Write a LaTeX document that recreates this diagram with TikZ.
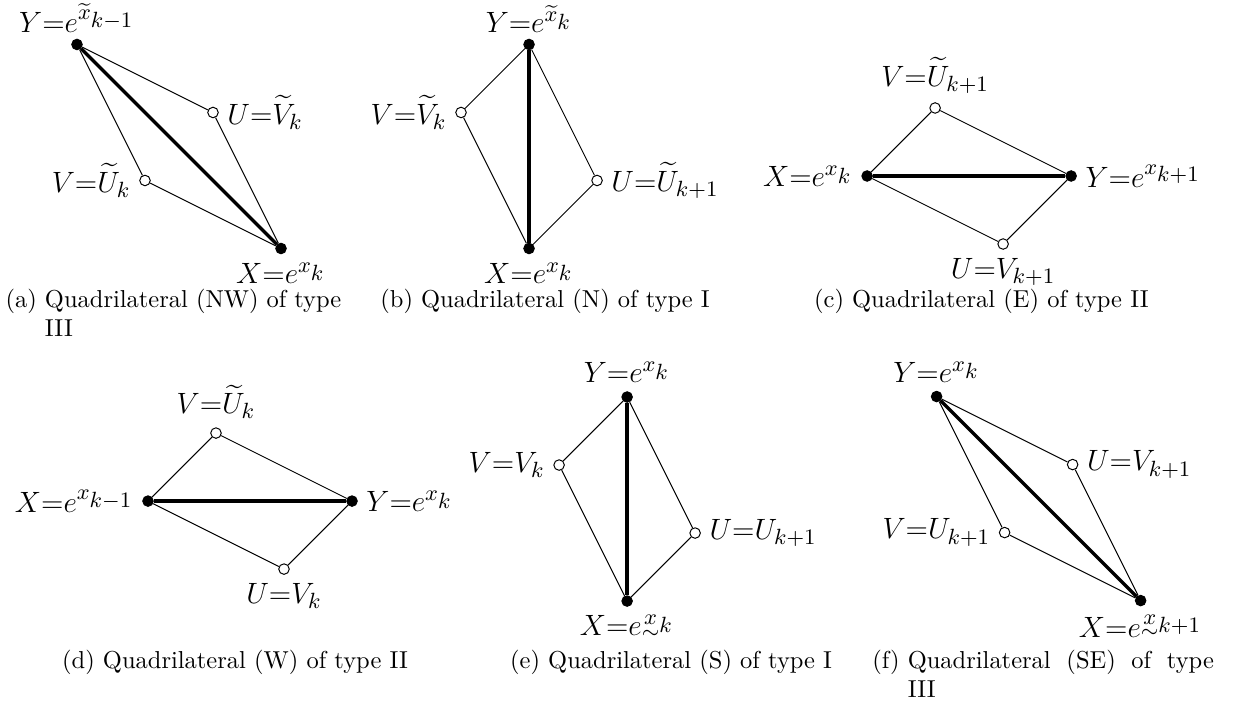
\documentclass[tikz,border=0pt]{standalone}
\usepackage{amsmath}
\DeclareMathSizes{12}{12}{9}{9}
\newcommand{\utx}{\smash[b]{\underset{\sim}{x}}}
\begin{document}
\begin{tikzpicture}[x=0.976cm, y=0.976cm,
    every label/.style={font=\large},
    bdot/.style={circle, draw=black, fill=black, inner sep=0pt, minimum size=4.3pt},
    wdot/.style={circle, draw=black, fill=white, inner sep=0pt, minimum size=4.3pt, thin},
    side/.style={thin},
    diag/.style={line width=1.4pt}]
    \useasboundingbox (0,0) rectangle (18.13,-10.397);

    % (a) Quadrilateral NW, type III
    \begin{scope}[shift={(2.632,-2.154)}]
        \node[bdot, label={[yshift=-1pt]above:{$Y{=}e^{\widetilde{x}_{k-1}}$}}] (aY) at (-1.5,1.5) {};
        \node[wdot, label=right:{$U{=}\widetilde{V}_k$}] (aU) at (0.5,0.5) {};
        \node[wdot, label=left:{$V{=}\widetilde{U}_k$}] (aV) at (-0.5,-0.5) {};
        \node[bdot, label=below:{$X{=}e^{x_k}$}] (aX) at (1.5,-1.5) {};
        \draw[side] (aY) -- (aU) -- (aX) -- (aV) -- (aY);
        \draw[diag] (aY) -- (aX);
    \end{scope}

    % (b) Quadrilateral N, type I
    \begin{scope}[shift={(7.779,-2.154)}]
        \node[bdot, label={[yshift=-1pt]above:{$Y{=}e^{\widetilde{x}_k}$}}] (bY) at (0,1.5) {};
        \node[wdot, label=left:{$V{=}\widetilde{V}_k$}] (bV) at (-1,0.5) {};
        \node[wdot, label=right:{$U{=}\widetilde{U}_{k+1}$}] (bU) at (1,-0.5) {};
        \node[bdot, label=below:{$X{=}e^{x_k}$}] (bX) at (0,-1.5) {};
        \draw[side] (bY) -- (bV) -- (bX) -- (bU) -- (bY);
        \draw[diag] (bY) -- (bX);
    \end{scope}

    % (c) Quadrilateral E, type II
    \begin{scope}[shift={(14.25,-2.588)}]
        \node[bdot, label=left:{$X{=}e^{x_k}$}] (cX) at (-1.5,0) {};
        \node[wdot, label=above:{$V{=}\widetilde{U}_{k+1}$}] (cV) at (-0.5,1) {};
        \node[bdot, label=right:{$Y{=}e^{x_{k+1}}$}] (cY) at (1.5,0) {};
        \node[wdot, label=below:{$U{=}V_{k+1}$}] (cU) at (0.5,-1) {};
        \draw[side] (cX) -- (cV) -- (cY) -- (cU) -- (cX);
        \draw[diag] (cX) -- (cY);
    \end{scope}

    % (d) Quadrilateral W, type II
    \begin{scope}[shift={(3.676,-7.368)}]
        \node[bdot, label=left:{$X{=}e^{x_{k-1}}$}] (dX) at (-1.5,0) {};
        \node[wdot, label=above:{$V{=}\widetilde{U}_k$}] (dV) at (-0.5,1) {};
        \node[bdot, label=right:{$Y{=}e^{x_k}$}] (dY) at (1.5,0) {};
        \node[wdot, label=below:{$U{=}V_k$}] (dU) at (0.5,-1) {};
        \draw[side] (dX) -- (dV) -- (dY) -- (dU) -- (dX);
        \draw[diag] (dX) -- (dY);
    \end{scope}

    % (e) Quadrilateral S, type I
    \begin{scope}[shift={(9.221,-7.338)}]
        \node[bdot, label=above:{$Y{=}e^{x_k}$}] (eY) at (0,1.5) {};
        \node[wdot, label=left:{$V{=}V_k$}] (eV) at (-1,0.5) {};
        \node[wdot, label=right:{$U{=}U_{k+1}$}] (eU) at (1,-0.5) {};
        \node[bdot, label=below:{$X{=}e^{\utx_k}$}] (eX) at (0,-1.5) {};
        \draw[side] (eY) -- (eV) -- (eX) -- (eU) -- (eY);
        \draw[diag] (eY) -- (eX);
    \end{scope}

    % (f) Quadrilateral SE, type III
    \begin{scope}[shift={(15.272,-7.331)}]
        \node[bdot, label=above:{$Y{=}e^{x_k}$}] (fY) at (-1.5,1.5) {};
        \node[wdot, label=right:{$U{=}V_{k+1}$}] (fU) at (0.5,0.5) {};
        \node[wdot, label=left:{$V{=}U_{k+1}$}] (fV) at (-0.5,-0.5) {};
        \node[bdot, label=below:{$X{=}e^{\utx_{k+1}}$}] (fX) at (1.5,-1.5) {};
        \draw[side] (fY) -- (fU) -- (fX) -- (fV) -- (fY);
        \draw[diag] (fY) -- (fX);
    \end{scope}

    % captions
    \node[anchor=base west, inner sep=0pt] (capa) at (0.074,-4.515)
        {\begin{tabular}[t]{@{}l@{ }p{121pt}@{}}(a) & Quadrilateral (NW) of type III\end{tabular}};
    \node[anchor=base] (capb) at (8.015,-4.515) {(b) Quadrilateral (N) of type I};
    \node[anchor=base] (capc) at (14.43,-4.515) {(c) Quadrilateral (E) of type II};
    \node[anchor=base] (capd) at (3.456,-9.83) {(d) Quadrilateral (W) of type II};
    \node[anchor=base] (cape) at (9.868,-9.83) {(e) Quadrilateral (S) of type I};
    \node[anchor=base west, inner sep=0pt] (capf) at (12.82,-9.83)
        {\begin{tabular}[t]{@{}l@{ }p{125pt}@{}}(f) & Quadrilateral (SE) of type III\end{tabular}};
\end{tikzpicture}
\end{document}
